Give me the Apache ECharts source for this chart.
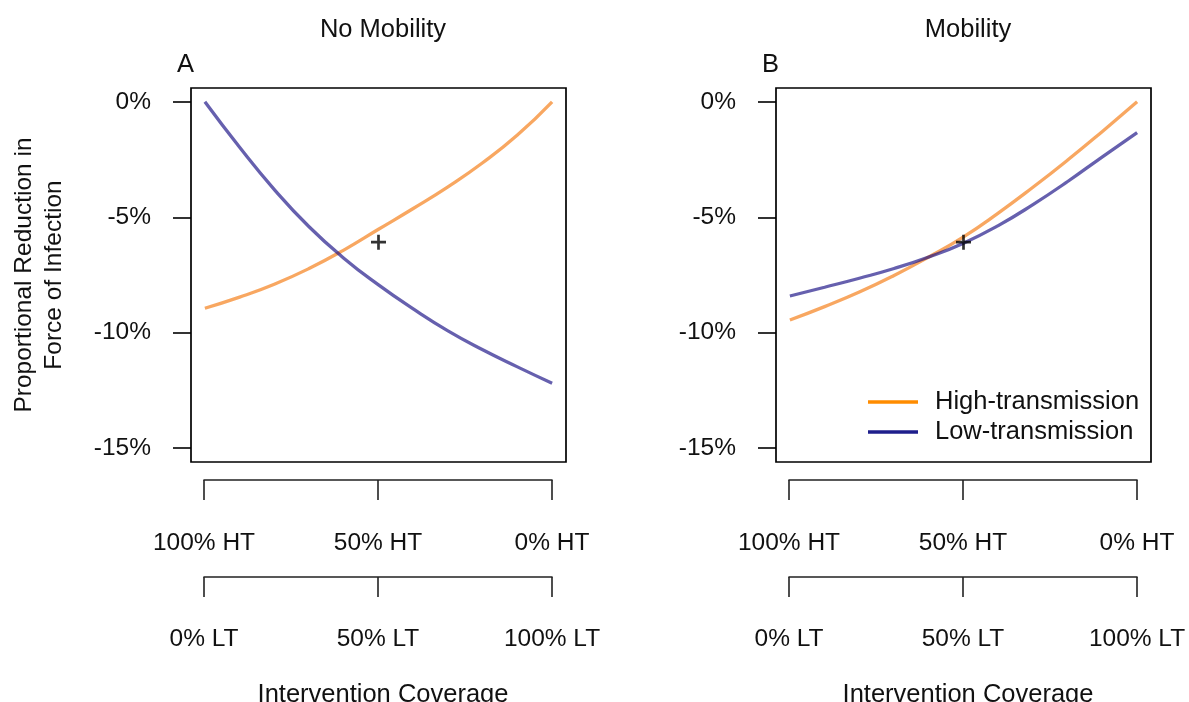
<!DOCTYPE html>
<html>
<head>
<meta charset="utf-8">
<title>Force of Infection</title>
<script src="https://cdn.jsdelivr.net/npm/echarts@6/dist/echarts.min.js"></script>
<style>
  html, body { margin: 0; padding: 0; background: #fff; }
  #chart { width: 1189px; height: 702px; }
</style>
</head>
<body>
<div id="chart"></div>
<script>
// Share of coverage given to the high-transmission patch (drawn reversed on the HT axis)
const coverage = [0, 0.1, 0.2, 0.3, 0.4, 0.5, 0.6, 0.7, 0.8, 0.9, 1];

// Panel A: no mobility, % change in force of infection
const noMobHT = [-8.94, -8.46, -7.90, -7.22, -6.42, -5.52, -4.62, -3.68, -2.64, -1.44, 0];
const noMobLT = [0, -1.97, -3.80, -5.41, -6.77, -7.93, -8.97, -9.92, -10.74, -11.48, -12.19];

// Panel B: with mobility
const mobHT = [-9.45, -8.87, -8.24, -7.52, -6.72, -5.85, -4.82, -3.70, -2.52, -1.28, 0];
const mobLT = [-8.41, -8.03, -7.64, -7.22, -6.72, -6.12, -5.36, -4.45, -3.45, -2.38, -1.33];

// Uniform-coverage reference point
const baseline = [0.5, -6.08];

// Axis ticks and labels
const yTicks = [0, -5, -10, -15];
const htLabels = ['100% HT', '50% HT', '0% HT'];
const ltLabels = ['0% LT', '50% LT', '100% LT'];

const FONT = "'Liberation Sans', Arial, Helvetica, sans-serif";
const FS = 24.5;      // tick labels
const FS_T = 25.5;    // titles, axis titles, legend
const HT_LINE = 'rgba(245,130,30,0.7)';
const LT_LINE = 'rgba(20,10,130,0.65)';
const PLUS = 'path://M4.1,0H5.9V4.1H10V5.9H5.9V10H4.1V5.9H0V4.1H4.1Z';

const pairs = arr => coverage.map((x, i) => [x, arr[i]]);

const panels = [
  { left: 191, title: 'No Mobility', tag: 'A', ht: noMobHT, lt: noMobLT, yName: 'Proportional Reduction in\nForce of Infection' },
  { left: 776, title: 'Mobility', tag: 'B', ht: mobHT, lt: mobLT, yName: '' }
];

const grid = [], xAxis = [], yAxis = [], series = [], title = [];
const txt = size => ({ fontSize: size, fontWeight: 'normal', color: '#111', fontFamily: FONT });

panels.forEach(p => {
  const gMain = grid.length;
  grid.push({ left: p.left, top: 88, width: 375, height: 374, show: true,
              borderColor: '#000', borderWidth: 1.7, backgroundColor: 'transparent' });
  xAxis.push({ gridIndex: gMain, type: 'value', min: -0.04, max: 1.04, show: false });
  yAxis.push({
    gridIndex: gMain, type: 'value', min: -15.6, max: 0.6,
    axisLine: { show: false, onZero: false },
    splitLine: { show: false },
    axisTick: { show: true, inside: false, length: 18, customValues: yTicks,
                lineStyle: { color: '#000', width: 1.6 } },
    axisLabel: { show: true, customValues: yTicks, margin: 40, formatter: v => v + '%',
                 color: '#111', fontSize: FS, fontFamily: FONT },
    name: p.yName, nameLocation: 'middle', nameRotate: 90, nameGap: 122,
    nameTextStyle: Object.assign(txt(FS_T - 1), { lineHeight: 30 })
  });

  // two stacked coverage axes below the panel
  [[htLabels, 470, 51], [ltLabels, 567, 50]].forEach(([labels, top, margin]) => {
    const g = grid.length;
    grid.push({ left: p.left + 13, top: top, width: 348, height: 10 });
    xAxis.push({
      gridIndex: g, type: 'category', data: labels, boundaryGap: false, position: 'bottom',
      axisLine: { show: true, onZero: false, lineStyle: { color: '#222', width: 1.6 } },
      axisTick: { show: true, inside: false, length: 20, lineStyle: { color: '#222', width: 1.6 } },
      axisLabel: { show: true, margin: margin, interval: 0, color: '#111', fontSize: FS, fontFamily: FONT },
      splitLine: { show: false }
    });
    yAxis.push({ gridIndex: g, type: 'value', show: false });
  });

  series.push({
    name: 'High-transmission', type: 'line', xAxisIndex: gMain, yAxisIndex: gMain,
    data: pairs(p.ht), smooth: true, symbol: 'none', lineStyle: { color: HT_LINE, width: 3.3 },
    itemStyle: { color: HT_LINE }, z: 2
  });
  series.push({
    name: 'Low-transmission', type: 'line', xAxisIndex: gMain, yAxisIndex: gMain,
    data: pairs(p.lt), smooth: true, symbol: 'none', lineStyle: { color: LT_LINE, width: 3.3 },
    itemStyle: { color: LT_LINE }, z: 2
  });
  series.push({
    type: 'scatter', xAxisIndex: gMain, yAxisIndex: gMain, data: [baseline],
    symbol: PLUS, symbolSize: 15, itemStyle: { color: '#000' }, z: 3, silent: true
  });

  const cx = p.left + 13 + 174;
  title.push({ text: p.title, left: cx, top: 27 - FS_T * 0.6, textAlign: 'center', textStyle: txt(FS_T) });
  title.push({ text: p.tag, left: p.left - 19, top: 62 - FS_T * 0.6, textStyle: txt(FS_T) });
  title.push({ text: 'Intervention Coverage', left: cx, top: 692 - FS_T * 0.6, textAlign: 'center', textStyle: txt(FS_T) });
});

const chart = echarts.init(document.getElementById('chart'), null, { renderer: 'canvas' });
chart.setOption({
  animation: false,
  backgroundColor: '#fff',
  title: title,
  grid: grid,
  xAxis: xAxis,
  yAxis: yAxis,
  series: series,
  legend: {
    orient: 'vertical', left: 863, top: 384, itemGap: 4,
    itemWidth: 50, itemHeight: 3.5, icon: 'rect',
    selectedMode: false,
    textStyle: Object.assign(txt(FS_T), { padding: [0, 0, 0, 12] }),
    data: [
      { name: 'High-transmission', itemStyle: { color: '#FF8C00' } },
      { name: 'Low-transmission', itemStyle: { color: '#1E1E8C' } }
    ]
  }
});
</script>
</body>
</html>
